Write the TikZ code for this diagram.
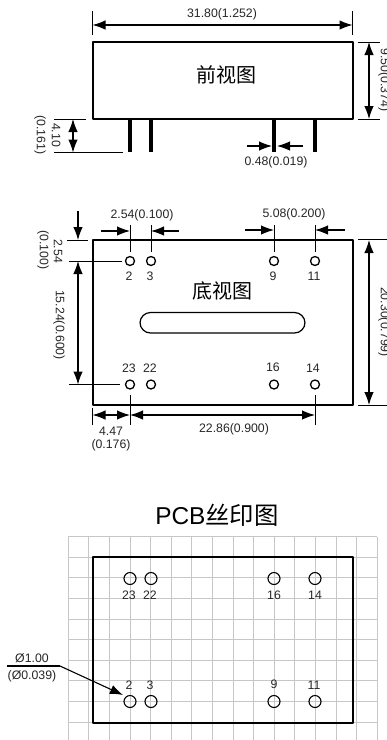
\documentclass[tikz,border=0pt]{standalone}
\usepackage{fontspec}
\setmainfont{Liberation Sans}
\newfontfamily\cjk{Noto Sans CJK SC}
\usetikzlibrary{arrows.meta}
\tikzset{
	>={Latex[length=13pt,width=9.5pt]},
	box/.style={line width=2pt, line join=round},
	dim/.style={line width=1.1pt, <->},
	lead/.style={line width=1.1pt, ->},
	ext/.style={line width=1pt},
	hole/.style={line width=1.3pt, fill=white},
	pin/.style={line width=4pt},
	lab/.style={inner sep=0pt, font=\fontsize{12.3}{14}\selectfont, text=black!85},
	title/.style={inner sep=0pt, font=\fontsize{20}{24}\selectfont\cjk},
}
\begin{document}
\begin{tikzpicture}[x=1pt, y=-1pt]
	\useasboundingbox (0, 0) rectangle (387, 740);
	% front view
	\draw[box](92.5, 42) rectangle (352.5, 119);
	\node[title] (front) at (226, 75){前视图};
	\foreach \px in {130, 151, 274, 315}
		\draw[pin](\px, 120) -- (\px, 152);
	\draw[ext](92.5, 11) -- (92.5, 35);
	\draw[ext](352.5, 11) -- (352.5, 35);
	\draw[dim](92.5, 25) -- (352.5, 25);
	\node[lab] (fwidth) at (222, 14){31.80(1.252)};
	\draw[ext](358, 42) -- (380, 42);
	\draw[ext](358, 119) -- (380, 119);
	\draw[dim](369, 42) -- (369, 119);
	\node[lab, rotate=-90] (fheight) at (384, 80){9.50(0.374)};
	\draw[ext](54, 119) -- (86, 119);
	\draw[ext](54, 152.5) -- (123, 152.5);
	\draw[dim](73, 119) -- (73, 152.5);
	\node[lab, rotate=-90] (flen) at (56, 135){4.10};
	\node[lab, rotate=-90] (flenb) at (40, 135){(0.161)};
	\draw[lead](247, 146) -- (272, 146);
	\draw[lead](303, 146) -- (277, 146);
	\node[lab] (fpin) at (276, 162){0.48(0.019)};

	% bottom view
	\draw[box](92.5, 240) rectangle (352.5, 405);
	\node[title] (bottom) at (222, 291){底视图};
	\draw[line width=1.2pt, rounded corners=10.5pt](140, 312.5) rectangle (305, 333);
	\foreach \px/\py in {130/261, 151/261, 274/261, 315/261, 130/384.5, 151/384.5, 274/384.5, 315/384.5}
		\draw[hole](\px, \py) circle (4.5);
	\foreach \px/\tx/\txt in {130/129/2, 151/150/3, 274/273/9, 315/314/11}
		\node[lab] at (\tx, 276){\txt};
	\foreach \tx/\ty/\txt in {129/368/23, 150/368/22, 273/367/16, 313/368/14}
		\node[lab] at (\tx, \ty){\txt};
	\foreach \px in {130, 151, 274, 315}
		\draw[ext](\px, 225) -- (\px, 252);
	\draw[lead](101, 231) -- (130, 231);
	\draw[lead](179, 231) -- (151, 231);
	\draw[lead](245, 230) -- (274, 230);
	\draw[lead](345, 230) -- (315, 230);
	\node[lab] (pitcha) at (142, 215){2.54(0.100)};
	\node[lab] (pitchb) at (294, 214){5.08(0.200)};
	\draw[lead](78, 211) -- (78, 240);
	\draw[ext](67, 240) -- (88, 240);
	\draw[ext](69, 261) -- (122, 261);
	\draw[ext](69, 384.5) -- (120, 384.5);
	\draw[dim](78, 261) -- (78, 384.5);
	\node[lab, rotate=-90] (topa) at (58, 251){2.54};
	\node[lab, rotate=-90] (topb) at (43, 250){(0.100)};
	\node[lab, rotate=-90] (span) at (59, 325){15.24(0.600)};
	\draw[ext](358, 239.5) -- (387, 239.5);
	\draw[ext](358, 405.5) -- (387, 405.5);
	\draw[dim](369, 240) -- (369, 405);
	\node[lab, rotate=-90] (bheight) at (384, 322){20.30(0.799)};
	\draw[ext](92.5, 408) -- (92.5, 425);
	\draw[ext](130, 395) -- (130, 425);
	\draw[ext](315, 395) -- (315, 425);
	\draw[dim](92.5, 415) -- (130, 415);
	\draw[dim](130, 415) -- (315, 415);
	\node[lab] (edgea) at (111, 431){4.47};
	\node[lab] (edgeb) at (111, 445){(0.176)};
	\node[lab] (across) at (234, 429){22.86(0.900)};

	% pcb view
	\node[inner sep=0pt, font=\fontsize{24.4}{28}\selectfont] (pcb) at (217, 515){PCB{\cjk 丝印图}};
	\foreach \i in {0,...,15}
		\draw[line width=1.1pt, black!22](68.3+20.6*\i, 536.7) -- (68.3+20.6*\i, 740);
	\foreach \i in {0,...,9}
		\draw[line width=1.1pt, black!22](68.3, 536.7+20.6*\i) -- (377.3, 536.7+20.6*\i);
	\draw[box](93, 557) rectangle (352.5, 722.5);
	\foreach \px/\py in {130/578.5, 151/578.5, 274/578.5, 315/578.5, 130/701.5, 151/701.5, 274/701.5, 315/701.5}
		\draw[line width=1.1pt](\px, \py) circle (6);
	\foreach \tx/\txt in {129/23, 150/22, 274/16, 315/14}
		\node[lab] at (\tx, 595){\txt};
	\foreach \tx/\ty/\txt in {129/685/2, 150/685/3, 274/684/9, 314/685/11}
		\node[lab] at (\tx, \ty){\txt};
	\draw[line width=1.1pt](7, 666) -- (60, 666);
	\draw[lead](60, 666) -- (123, 695);
	\node[lab] (dia) at (32, 658){Ø1.00};
	\node[lab] (diab) at (32, 676){(Ø0.039)};
\end{tikzpicture}
\end{document}
